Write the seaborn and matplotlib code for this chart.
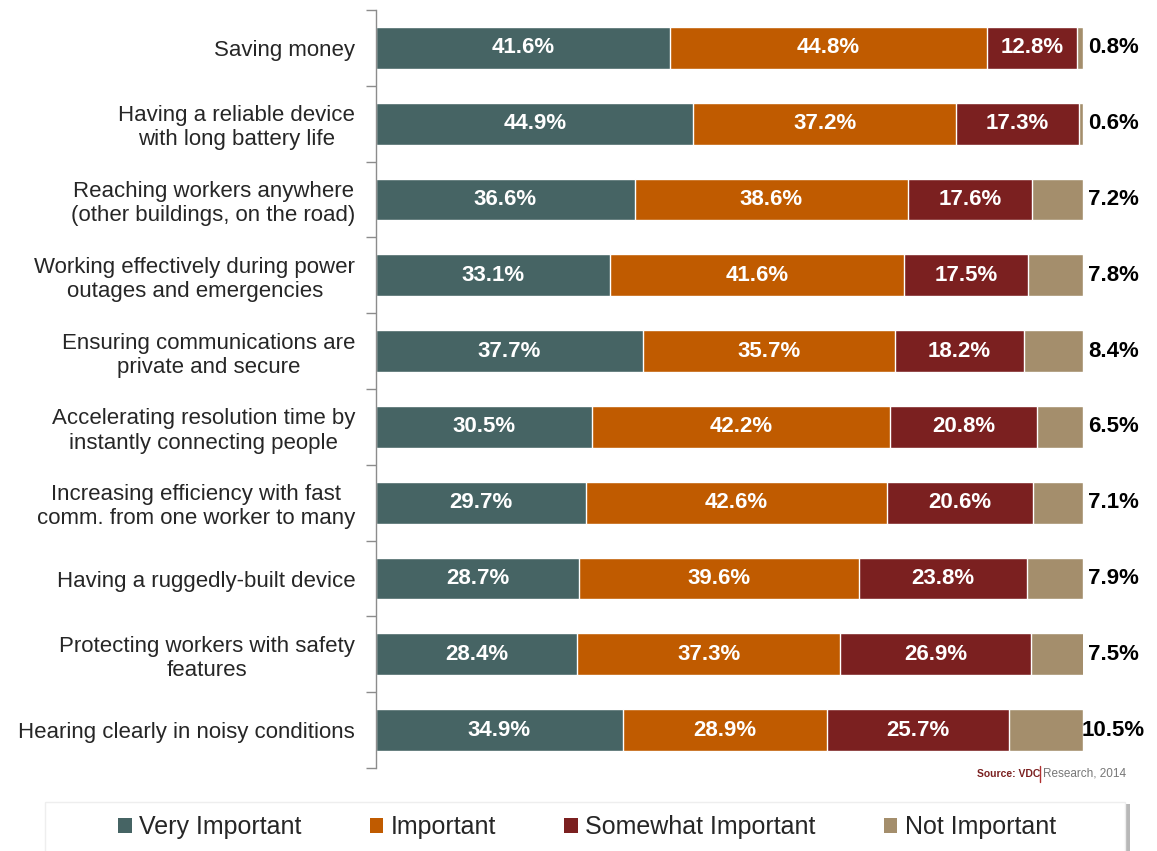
import numpy as np
import pandas as pd
import seaborn as sns
import matplotlib.pyplot as plt
from matplotlib.patches import Rectangle, Patch

categories = [
    "Saving money",
    "Having a reliable device\nwith long battery life",
    "Reaching workers anywhere\n(other buildings, on the road)",
    "Working effectively during power\noutages and emergencies",
    "Ensuring communications are\nprivate and secure",
    "Accelerating resolution time by\ninstantly connecting people",
    "Increasing efficiency with fast\ncomm. from one worker to many",
    "Having a ruggedly-built device",
    "Protecting workers with safety\nfeatures",
    "Hearing clearly in noisy conditions",
]
very_important = [41.6, 44.9, 36.6, 33.1, 37.7, 30.5, 29.7, 28.7, 28.4, 34.9]
important = [44.8, 37.2, 38.6, 41.6, 35.7, 42.2, 42.6, 39.6, 37.3, 28.9]
somewhat_important = [12.8, 17.3, 17.6, 17.5, 18.2, 20.8, 20.6, 23.8, 26.9, 25.7]
not_important = [0.8, 0.6, 7.2, 7.8, 8.4, 6.5, 7.1, 7.9, 7.5, 10.5]

levels = ["Very Important", "Important", "Somewhat Important", "Not Important"]
colors = ["#466464", "#C05B00", "#7B2020", "#A48E6C"]

sns.set_style("white")
plt.rcParams['font.family'] = ['Liberation Sans', 'DejaVu Sans']

# long table with cumulative positions for the stacked bars
rows = []
for i, cat in enumerate(categories):
    vals = [very_important[i], important[i], somewhat_important[i], not_important[i]]
    cum = 0
    for lev, v in zip(levels, vals):
        cum += v
        rows.append({"category": cat, "level": lev, "value": v, "cum": cum})
df = pd.DataFrame(rows)

fig = plt.figure(figsize=(11.57, 8.51), dpi=100)
ax = fig.add_axes([376 / 1157, 1 - 768 / 851, (1083 - 376) / 1157, (768 - 10) / 851])

# draw from the outermost segment in, each one covering the rest
for lev, col in reversed(list(zip(levels, colors))):
    sub = df[df["level"] == lev]
    sns.barplot(data=sub, x="cum", y="category", color=col, width=0.55,
                orient="h", ax=ax, saturation=1, order=categories)

for _, r in df.iterrows():
    y = categories.index(r["category"])
    label = f"{r['value']:.1f}%"
    if r["level"] == "Not Important":
        ax.text(104.3, y, label, ha="center", va="center", fontsize=16,
                fontweight="bold", color="black", clip_on=False)
    else:
        ax.text(r["cum"] - r["value"] / 2, y, label, ha="center", va="center",
                fontsize=16, fontweight="bold", color="white")

ax.set_xlim(0, 100)
ax.set_ylim(len(categories) - 0.5, -0.5)
ax.set_xlabel("")
ax.set_ylabel("")
ax.set_xticks([])
for s in ["top", "right", "bottom"]:
    ax.spines[s].set_visible(False)
ax.spines["left"].set_color("#8c8c8c")
ax.spines["left"].set_linewidth(1)

ax.set_yticks(range(len(categories)))
ax.set_yticklabels(categories, fontsize=16, multialignment="center")
ax.tick_params(axis="y", which="major", length=0, pad=15)
ax.set_yticks(np.arange(-0.5, len(categories) + 0.5, 1), minor=True)
ax.tick_params(axis="y", which="minor", length=7, color="#8c8c8c", width=1,
               direction="out", left=True)

# source note, pieces chained one after the other
src = fig.text(977 / 1157, 1 - 774 / 851, "Source: VDC", fontsize=7.5,
               fontweight="bold", color="#7B2020", va="center")
bar = fig.add_artist(plt.Line2D([1040 / 1157, 1040 / 1157], [1 - 782 / 851, 1 - 766 / 851],
                                transform=fig.transFigure, color="#B03030", lw=1))
res = fig.text(1043 / 1157, 1 - 774 / 851, "Research, 2014", fontsize=8.5,
               color="#777777", va="center")

# legend box with a soft shadow
fig.patches.append(Rectangle((49 / 1157, -0.02), 1081 / 1157, 0.075,
                             transform=fig.transFigure, facecolor="#b8b8b8",
                             edgecolor="none", zorder=0))
fig.patches.append(Rectangle((45 / 1157, -0.02), 1080 / 1157, 0.077,
                             transform=fig.transFigure, facecolor="white",
                             edgecolor="#eeeeee", lw=1, zorder=1))
handles = [Patch(facecolor=c, edgecolor="none") for c in colors]
fig.legend(handles, levels, loc="center", ncol=4, frameon=False,
           bbox_to_anchor=(108 / 1157, 1 - 840 / 851, 958 / 1157, 0.03),
           mode="expand", fontsize=18, handlelength=0.55, handleheight=0.55,
           handletextpad=0.3, borderaxespad=0)

fig.savefig("out.png", dpi=100)
